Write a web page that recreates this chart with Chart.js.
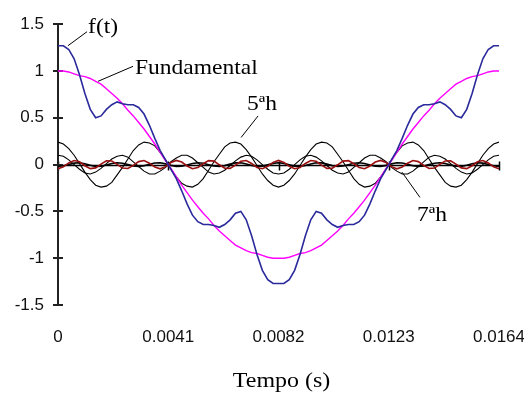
<!DOCTYPE html>
<html lang="pt">
<head>
<meta charset="UTF-8" />
<title>f(t) e harmonicas</title>
<style>
  body { margin: 0; background: #fff; }
  .mainBox { width: 524px; height: 396px; position: relative; }
</style>
</head>
<body>
<div class="mainBox"><canvas id="myChart_wave"></canvas></div>
<script src="https://cdn.jsdelivr.net/npm/chart.js@4.4.1/dist/chart.umd.min.js"></script>
<script>
// tempo (s)
var tempo = [
  0, 0.0002, 0.0004, 0.0006, 0.0008, 0.0010, 0.0012, 0.0014, 0.0016, 0.0018,
  0.0020, 0.0022, 0.0024, 0.0026, 0.0028, 0.0030, 0.0032, 0.0034, 0.0036, 0.0038,
  0.0040, 0.0042, 0.0044, 0.0046, 0.0048, 0.0050, 0.0052, 0.0054, 0.0056, 0.0058,
  0.0060, 0.0062, 0.0064, 0.0066, 0.0068, 0.0070, 0.0072, 0.0074, 0.0076, 0.0078,
  0.0080, 0.0082, 0.0084, 0.0086, 0.0088, 0.0090, 0.0092, 0.0094, 0.0096, 0.0098,
  0.0100, 0.0102, 0.0104, 0.0106, 0.0108, 0.0110, 0.0112, 0.0114, 0.0116, 0.0118,
  0.0120, 0.0122, 0.0124, 0.0126, 0.0128, 0.0130, 0.0132, 0.0134, 0.0136, 0.0138,
  0.0140, 0.0142, 0.0144, 0.0146, 0.0148, 0.0150, 0.0152, 0.0154, 0.0156, 0.0158,
  0.0160, 0.0162, 0.0164
];

// f(t) - onda total
var fT = [
  1.27, 1.27, 1.23, 1.13, 0.96, 0.76, 0.59, 0.50, 0.52, 0.59, 0.64, 0.67, 0.65, 0.64,
  0.64, 0.61, 0.54, 0.42, 0.28, 0.15, 0.05, -0.05, -0.15, -0.28, -0.42, -0.54, -0.61,
  -0.64, -0.64, -0.65, -0.67, -0.64, -0.59, -0.52, -0.50, -0.59, -0.76, -0.96, -1.13,
  -1.23, -1.27, -1.27,
  -1.27, -1.23, -1.13, -0.96, -0.76, -0.59, -0.50, -0.52, -0.59, -0.64, -0.67, -0.65,
  -0.64, -0.64, -0.61, -0.54, -0.42, -0.28, -0.15, -0.05, 0.05, 0.15, 0.28, 0.42, 0.54,
  0.61, 0.64, 0.64, 0.65, 0.67, 0.64, 0.59, 0.52, 0.50, 0.59, 0.76, 0.96, 1.13, 1.23,
  1.27, 1.27
];

// fundamental
var fundamental = [
  1.00, 1.00, 0.99, 0.97, 0.95, 0.94, 0.92, 0.89, 0.86, 0.81, 0.76, 0.71, 0.65, 0.58,
  0.52, 0.45, 0.38, 0.30, 0.22, 0.13, 0.04, -0.04, -0.13, -0.22, -0.30, -0.38, -0.45,
  -0.52, -0.58, -0.65, -0.71, -0.76, -0.81, -0.86, -0.89, -0.92, -0.94, -0.95, -0.97,
  -0.99, -1.00, -1.00,
  -1.00, -0.99, -0.97, -0.95, -0.94, -0.92, -0.89, -0.86, -0.81, -0.76, -0.71, -0.65,
  -0.58, -0.52, -0.45, -0.38, -0.30, -0.22, -0.13, -0.04, 0.04, 0.13, 0.22, 0.30, 0.38,
  0.45, 0.52, 0.58, 0.65, 0.71, 0.76, 0.81, 0.86, 0.89, 0.92, 0.94, 0.95, 0.97, 0.99,
  1.00, 1.00
];

// 5a harmonica
var harm5 = [
  0.24, 0.22, 0.17, 0.10, 0.01, -0.08, -0.16, -0.22, -0.24, -0.23, -0.19, -0.11, -0.03,
  0.06, 0.15, 0.21, 0.24, 0.23, 0.20, 0.13, 0.05, -0.05, -0.13, -0.20, -0.23, -0.24,
  -0.21, -0.15, -0.06, 0.03, 0.11, 0.19, 0.23, 0.24, 0.22, 0.16, 0.08, -0.01, -0.10,
  -0.17, -0.22, -0.24,
  -0.22, -0.17, -0.10, -0.01, 0.08, 0.16, 0.22, 0.24, 0.23, 0.19, 0.11, 0.03, -0.06,
  -0.15, -0.21, -0.24, -0.23, -0.20, -0.13, -0.05, 0.05, 0.13, 0.20, 0.23, 0.24, 0.21,
  0.15, 0.06, -0.03, -0.11, -0.19, -0.23, -0.24, -0.22, -0.16, -0.08, 0.01, 0.10, 0.17,
  0.22, 0.24
];

// 7a harmonica
var harm7 = [
  0.10, 0.09, 0.05, 0.00, -0.05, -0.09, -0.10, -0.08, -0.04, 0.01, 0.06, 0.09, 0.10,
  0.08, 0.03, -0.02, -0.07, -0.10, -0.10, -0.07, -0.03, 0.03, 0.07, 0.10, 0.10, 0.07,
  0.02, -0.03, -0.08, -0.10, -0.09, -0.06, -0.01, 0.04, 0.08, 0.10, 0.09, 0.05, 0.00,
  -0.05, -0.09, -0.10,
  -0.09, -0.05, 0.00, 0.05, 0.09, 0.10, 0.08, 0.04, -0.01, -0.06, -0.09, -0.10, -0.08,
  -0.03, 0.02, 0.07, 0.10, 0.10, 0.07, 0.03, -0.03, -0.07, -0.10, -0.10, -0.07, -0.02,
  0.03, 0.08, 0.10, 0.09, 0.06, 0.01, -0.04, -0.08, -0.10, -0.09, -0.05, 0.00, 0.05,
  0.09, 0.10
];

// 11a harmonica (quase sobre o eixo)
var harm11 = [
  -0.020, -0.013, 0.002, 0.016, 0.019, 0.010, -0.007, -0.019, -0.018, -0.005, 0.011,
  0.020, 0.015, 0.001, -0.014, -0.020, -0.012, 0.004, 0.017, 0.019, 0.008, -0.008,
  -0.019, -0.017, -0.004, 0.012, 0.020, 0.014, -0.001, -0.015, -0.020, -0.011, 0.005,
  0.018, 0.019, 0.007, -0.010, -0.019, -0.016, -0.002, 0.013, 0.020,
  0.013, -0.002, -0.016, -0.019, -0.010, 0.007, 0.019, 0.018, 0.005, -0.011, -0.020,
  -0.015, -0.001, 0.014, 0.020, 0.012, -0.004, -0.017, -0.019, -0.008, 0.008, 0.019,
  0.017, 0.004, -0.012, -0.020, -0.014, 0.001, 0.015, 0.020, 0.011, -0.005, -0.018,
  -0.019, -0.007, 0.010, 0.019, 0.016, 0.002, -0.013, -0.020
];

// 13a harmonica (vermelha)
var harm13 = [
  -0.045, -0.024, 0.018, 0.044, 0.030, -0.012, -0.043, -0.035, 0.005, 0.040, 0.039,
  0.002, -0.037, -0.042, -0.009, 0.032, 0.044, 0.015, -0.027, -0.045, -0.022, 0.022,
  0.045, 0.027, -0.015, -0.044, -0.032, 0.009, 0.042, 0.037, -0.002, -0.039, -0.040,
  -0.005, 0.035, 0.043, 0.012, -0.030, -0.044, -0.018, 0.024, 0.045,
  0.024, -0.018, -0.044, -0.030, 0.012, 0.043, 0.035, -0.005, -0.040, -0.039, -0.002,
  0.037, 0.042, 0.009, -0.032, -0.044, -0.015, 0.027, 0.045, 0.022, -0.022, -0.045,
  -0.027, 0.015, 0.044, 0.032, -0.009, -0.042, -0.037, 0.002, 0.039, 0.040, 0.005,
  -0.035, -0.043, -0.012, 0.030, 0.044, 0.018, -0.024, -0.045
];

var xTickValues = [0, 0.0041, 0.0082, 0.0123, 0.0164];
var xTickLabels = ['0', '0.0041', '0.0082', '0.0123', '0.0164'];
var yTickValues = [-1.5, -1, -0.5, 0, 0.5, 1, 1.5];
var yTickLabels = ['-1.5', '-1', '-0.5', '0', '0.5', '1', '1.5'];

// etiquetas com seta (coordenadas do grafico)
var noteText = ['f(t)', 'Fundamental', '5ªh', '7ªh'];
var noteX = [0.00112, 0.00286, 0.00703, 0.01335];
var noteY = [1.46, 1.03, 0.64, -0.54];
var lineFrom = [[0.00108, 1.42], [0.00279, 1.05], [0.00744, 0.52], [0.01346, -0.35]];
var lineTo = [[0.00037, 1.27], [0.00149, 0.89], [0.00681, 0.29], [0.01279, -0.08]];

function pts(vals) {
  return tempo.map(function (t, i) { return { x: t, y: vals[i] }; });
}

function serie(vals, cor, largura, ordem) {
  return {
    data: pts(vals),
    borderColor: cor,
    borderWidth: largura,
    pointRadius: 0,
    tension: 0,
    fill: false,
    order: ordem
  };
}

// texto serif um pouco alargado, como no original
function wideText(ctx, txt, px, py, sx) {
  ctx.save();
  ctx.translate(px, py);
  ctx.scale(sx, 1);
  ctx.fillText(txt, 0, 0);
  ctx.restore();
}

const extras = {
  id: 'extras',
  beforeDatasetsDraw(chart) {
    const ctx = chart.ctx, a = chart.chartArea;
    const x = chart.scales.x, y = chart.scales.y;
    const x0 = Math.round(x.getPixelForValue(0));
    const y0 = Math.round(y.getPixelForValue(0)) + 0.5;
    ctx.save();
    // linha do zero
    ctx.strokeStyle = '#000';
    ctx.lineWidth = 1.5;
    ctx.beginPath();
    ctx.moveTo(a.left, y0);
    ctx.lineTo(a.right, y0);
    xTickValues.forEach(function (v) {
      const px = Math.round(x.getPixelForValue(v)) + 0.5;
      ctx.moveTo(px, y0 - 4);
      ctx.lineTo(px, y0 + 5);
    });
    ctx.stroke();
    // eixo y
    ctx.strokeStyle = '#222';
    ctx.lineWidth = 2;
    ctx.beginPath();
    ctx.moveTo(x0, a.top);
    ctx.lineTo(x0, a.bottom);
    yTickValues.forEach(function (v) {
      const py = Math.round(y.getPixelForValue(v));
      ctx.moveTo(x0 - 5, py);
      ctx.lineTo(x0 + 5, py);
    });
    ctx.stroke();
    ctx.restore();
  },
  afterDatasetsDraw(chart) {
    const ctx = chart.ctx, a = chart.chartArea;
    const x = chart.scales.x, y = chart.scales.y;
    ctx.save();
    ctx.strokeStyle = '#000';
    ctx.lineWidth = 1;
    ctx.beginPath();
    for (let i = 0; i < noteText.length; i++) {
      ctx.moveTo(x.getPixelForValue(lineFrom[i][0]), y.getPixelForValue(lineFrom[i][1]));
      ctx.lineTo(x.getPixelForValue(lineTo[i][0]), y.getPixelForValue(lineTo[i][1]));
    }
    ctx.stroke();
    ctx.fillStyle = '#000';
    ctx.font = '21px "Liberation Serif", "Times New Roman", serif';
    ctx.textAlign = 'left';
    ctx.textBaseline = 'middle';
    for (let i = 0; i < noteText.length; i++) {
      wideText(ctx, noteText[i], x.getPixelForValue(noteX[i]), y.getPixelForValue(noteY[i]), 1.12);
    }
    // titulo do eixo x
    ctx.textAlign = 'center';
    wideText(ctx, 'Tempo (s)', (a.left + a.right) / 2 + 3, a.bottom + 76, 1.14);
    ctx.restore();
  }
};

const ctx_wave = document.getElementById('myChart_wave');
new Chart(ctx_wave, {
  type: 'line',
  data: {
    datasets: [
      serie(fT, '#2a2a9c', 1.6, 0),
      serie(fundamental, '#ff00ff', 1.4, 1),
      serie(harm13, '#9a1010', 1.6, 2),
      serie(harm5, '#000', 1.1, 3),
      serie(harm7, '#000', 1.1, 3),
      serie(harm11, '#000', 1.6, 3)
    ]
  },
  options: {
    responsive: true,
    maintainAspectRatio: false,
    animation: false,
    layout: { padding: { top: 17, right: 0, left: 0, bottom: 0 } },
    plugins: { legend: { display: false }, tooltip: { enabled: false } },
    scales: {
      x: {
        type: 'linear',
        min: 0,
        max: 0.0164,
        afterBuildTicks: function (scale) {
          scale.ticks = xTickValues.map(function (v) { return { value: v }; });
        },
        afterFit: function (scale) {
          scale.height = 91;
          scale.paddingLeft = 0;
          scale.paddingRight = 25;
        },
        grid: { display: false, drawTicks: false },
        border: { display: false },
        ticks: {
          padding: 22,
          maxRotation: 0,
          autoSkip: false,
          color: '#111',
          font: { family: '"Liberation Sans", Arial, sans-serif', size: 17 },
          callback: function (v, i) { return xTickLabels[i]; }
        }
      },
      y: {
        min: -1.5,
        max: 1.5,
        afterBuildTicks: function (scale) {
          scale.ticks = yTickValues.map(function (v) { return { value: v }; });
        },
        afterFit: function (scale) { scale.width = 58; },
        grid: { display: false, drawTicks: false },
        border: { display: false },
        ticks: {
          padding: 14,
          color: '#111',
          font: { family: '"Liberation Sans", Arial, sans-serif', size: 17 },
          callback: function (v, i) { return yTickLabels[i]; }
        }
      }
    }
  },
  plugins: [extras]
});
</script>
</body>
</html>
